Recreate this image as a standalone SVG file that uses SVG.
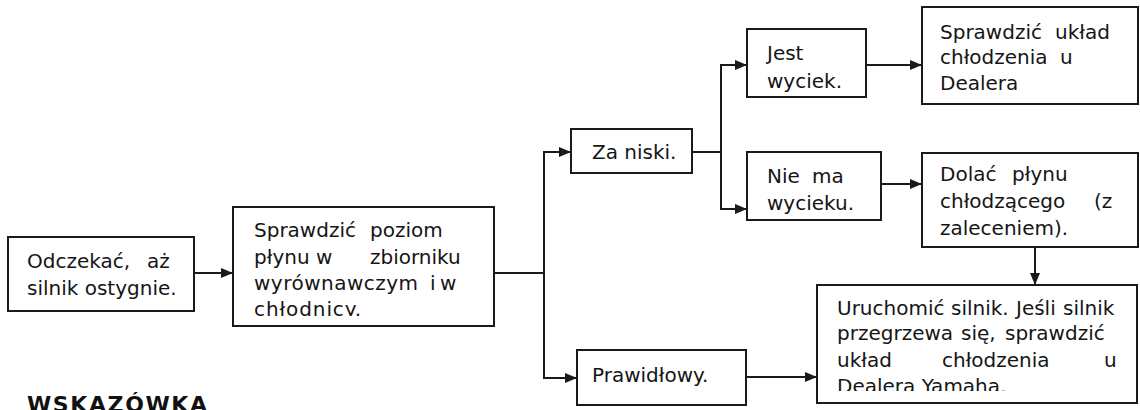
<svg xmlns="http://www.w3.org/2000/svg" width="1140" height="410" viewBox="0 0 1140 410">
<style>
.box{fill:#fff;stroke:#1a1a1a;stroke-width:2}
.t{font-family:"DejaVu Sans","Liberation Sans",sans-serif;font-size:20px;fill:#151515}
.c{fill:none;stroke:#1a1a1a;stroke-width:2}
.h{font-family:"DejaVu Sans","Liberation Sans",sans-serif;font-size:22px;font-weight:bold;fill:#111}
</style>
<defs>
<marker id="ah" markerWidth="12" markerHeight="10" refX="11" refY="5" orient="auto" markerUnits="userSpaceOnUse">
<path d="M0,0 L12,5 L0,10 Z" fill="#1a1a1a"/>
</marker>
<clipPath id="clip2"><rect x="233" y="207" width="261" height="109"/></clipPath>
<clipPath id="clip9"><rect x="817" y="285" width="320" height="106"/></clipPath>
</defs>

<g id="connectors">
<line class="c" x1="194" y1="273" x2="232" y2="273" marker-end="url(#ah)"/>
<line class="c" x1="494" y1="273" x2="544" y2="273" stroke-width="1.5"/>
<line class="c" x1="544" y1="152" x2="544" y2="378"/>
<line class="c" x1="543" y1="152" x2="570" y2="152" marker-end="url(#ah)"/>
<line class="c" x1="543" y1="378" x2="576" y2="378" marker-end="url(#ah)"/>
<line class="c" x1="692" y1="152" x2="721" y2="152"/>
<line class="c" x1="721" y1="65" x2="721" y2="209"/>
<line class="c" x1="720" y1="65" x2="746" y2="65" marker-end="url(#ah)"/>
<line class="c" x1="720" y1="209" x2="746" y2="209" marker-end="url(#ah)"/>
<line class="c" x1="866" y1="65" x2="921" y2="65" marker-end="url(#ah)"/>
<line class="c" x1="881" y1="184" x2="921" y2="184" marker-end="url(#ah)"/>
<line class="c" x1="1035" y1="247" x2="1035" y2="284" marker-end="url(#ah)"/>
<line class="c" x1="746" y1="377" x2="816" y2="377" marker-end="url(#ah)"/>
</g>

<g id="n1">
<rect class="box" x="8" y="237" width="186" height="74"/>
<text class="t" x="27" y="268">Odczekać,<tspan x="147">aż</tspan></text>
<text class="t" x="27" y="295">silnik ostygnie.</text>
</g>

<g id="n2">
<rect class="box" x="233" y="207" width="261" height="119"/>
<g clip-path="url(#clip2)">
<text class="t" x="254" y="237">Sprawdzić<tspan x="370">poziom</tspan></text>
<text class="t" x="254" y="264">płynu<tspan x="316">w</tspan><tspan x="370">zbiorniku</tspan></text>
<text class="t" x="254" y="290"><tspan textLength="164">wyrównawczym</tspan><tspan x="430">i</tspan><tspan x="440">w</tspan></text>
<text class="t" x="254" y="316" textLength="107">chłodnicy.</text>
</g>
</g>

<g id="n3">
<rect class="box" x="571" y="129" width="121" height="44"/>
<text class="t" x="592" y="159">Za niski.</text>
</g>

<g id="n4">
<rect class="box" x="577" y="350" width="169" height="55"/>
<text class="t" x="592" y="382">Prawidłowy.</text>
</g>

<g id="n5">
<rect class="box" x="747" y="29" width="119" height="68"/>
<text class="t" x="767" y="60">Jest</text>
<text class="t" x="767" y="88">wyciek.</text>
</g>

<g id="n6">
<rect class="box" x="747" y="152" width="134" height="68"/>
<text class="t" x="767" y="183">Nie<tspan x="812">ma</tspan></text>
<text class="t" x="767" y="210">wycieku.</text>
</g>

<g id="n7">
<rect class="box" x="922" y="7" width="216" height="97"/>
<text class="t" x="940" y="39">Sprawdzić<tspan x="1055">układ</tspan></text>
<text class="t" x="940" y="64">chłodzenia<tspan x="1060">u</tspan></text>
<text class="t" x="940" y="90">Dealera</text>
</g>

<g id="n8">
<rect class="box" x="922" y="153" width="216" height="94"/>
<text class="t" x="940" y="181">Dolać<tspan x="1012">płynu</tspan></text>
<text class="t" x="940" y="208">chłodzącego<tspan x="1094">(z</tspan></text>
<text class="t" x="940" y="235">zaleceniem).</text>
</g>

<g id="n9">
<rect class="box" x="817" y="285" width="320" height="118"/>
<g clip-path="url(#clip9)">
<text class="t" x="837" y="315">Uruchomić<tspan x="951">silnik.</tspan><tspan x="1016">Jeśli</tspan><tspan x="1063">silnik</tspan></text>
<text class="t" x="837" y="340">przegrzewa<tspan x="961">się,</tspan><tspan x="1005">sprawdzić</tspan></text>
<text class="t" x="837" y="367">układ<tspan x="942">chłodzenia</tspan><tspan x="1104">u</tspan></text>
<text class="t" x="837" y="393">Dealera Yamaha.</text>
</g>
</g>

<text class="h" x="27" y="412" textLength="180">WSKAZÓWKA</text>
</svg>
